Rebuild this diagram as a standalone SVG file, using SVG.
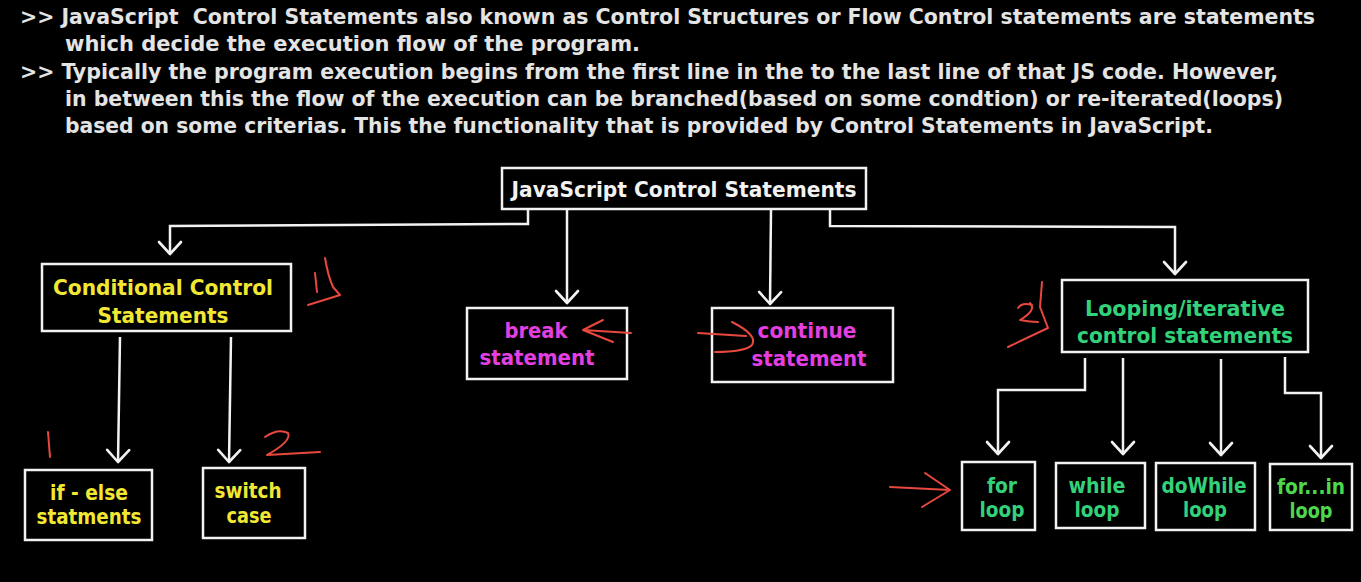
<svg xmlns="http://www.w3.org/2000/svg" width="1361" height="582" viewBox="0 0 1361 582">
<defs>
<marker id="ah" markerUnits="userSpaceOnUse" markerWidth="30" markerHeight="30" viewBox="0 0 30 30" refX="15" refY="13" orient="auto">
<path d="M3,2 L15,13 L3,24" fill="none" stroke="#f2f2f2" stroke-width="2.6" stroke-linecap="round" stroke-linejoin="round"/>
</marker>
</defs>
<style>
.hdr{font-family:"DejaVu Sans Condensed","DejaVu Sans",sans-serif;font-weight:bold;font-size:21px;fill:#e4e4e4}
.box{fill:none;stroke:#f2f2f2;stroke-width:2.5}
.lbl{font-family:"DejaVu Sans","Liberation Sans",sans-serif;font-weight:bold;font-size:21px;text-anchor:middle}
.w{fill:#f2f2f2}
.y{fill:#f2e834}
.m{fill:#e43fe0}
.g{fill:#33d27a}
.g2{fill:#4cd84a}
.con{fill:none;stroke:#f2f2f2;stroke-width:2.5;marker-end:url(#ah)}
.red{fill:none;stroke:#e8483e;stroke-width:2;stroke-linecap:round;stroke-linejoin:round}
</style>
<rect width="1361" height="582" fill="#000"/>
<g id="header">
<text class="hdr" x="20" y="24" textLength="1295" lengthAdjust="spacingAndGlyphs" xml:space="preserve">&gt;&gt; JavaScript  Control Statements also known as Control Structures or Flow Control statements are statements</text>
<text class="hdr" x="65" y="51" textLength="575" lengthAdjust="spacingAndGlyphs">which decide the execution flow of the program.</text>
<text class="hdr" x="20" y="79" textLength="1258" lengthAdjust="spacingAndGlyphs">&gt;&gt; Typically the program execution begins from the first line in the to the last line of that JS code. However,</text>
<text class="hdr" x="65" y="106" textLength="1218" lengthAdjust="spacingAndGlyphs">in between this the flow of the execution can be branched(based on some condtion) or re-iterated(loops)</text>
<text class="hdr" x="65" y="133" textLength="1148" lengthAdjust="spacingAndGlyphs">based on some criterias. This the functionality that is provided by Control Statements in JavaScript.</text>
</g>
<g id="connectors">
<polyline class="con" points="528,210 528,224 170,226 170,254"/>
<polyline class="con" points="567,210 567,303"/>
<polyline class="con" points="771,210 770,304"/>
<polyline class="con" points="830,210 830,226 1175,227 1175,274"/>
<polyline class="con" points="120,337 118,462"/>
<polyline class="con" points="231,337 229,462"/>
<polyline class="con" points="1085,358 1085,390 998,390 998,454"/>
<polyline class="con" points="1123,358 1123,454"/>
<polyline class="con" points="1221,359 1221,455"/>
<polyline class="con" points="1285,357 1285,393 1321,393 1321,458"/>
</g>
<g id="root">
<rect class="box" x="502" y="168" width="364" height="41"/>
<text class="lbl w" x="684" y="197" textLength="345" lengthAdjust="spacingAndGlyphs">JavaScript Control Statements</text>
</g>
<g id="conditional">
<rect class="box" x="42" y="264" width="249" height="67"/>
<text class="lbl y" x="163" y="295" textLength="220" lengthAdjust="spacingAndGlyphs">Conditional Control</text>
<text class="lbl y" x="163" y="323" textLength="131" lengthAdjust="spacingAndGlyphs">Statements</text>
</g>
<g id="break">
<rect class="box" x="467" y="308" width="160" height="71"/>
<text class="lbl m" x="536" y="338" textLength="63" lengthAdjust="spacingAndGlyphs">break</text>
<text class="lbl m" x="537" y="365" textLength="115" lengthAdjust="spacingAndGlyphs">statement</text>
</g>
<g id="continue">
<rect class="box" x="712" y="308" width="181" height="74"/>
<text class="lbl m" x="807" y="338" textLength="99" lengthAdjust="spacingAndGlyphs">continue</text>
<text class="lbl m" x="809" y="366" textLength="115" lengthAdjust="spacingAndGlyphs">statement</text>
</g>
<g id="looping">
<rect class="box" x="1062" y="280" width="246" height="72"/>
<text class="lbl g" x="1185" y="316" textLength="200" lengthAdjust="spacingAndGlyphs">Looping/iterative</text>
<text class="lbl g" x="1185" y="343" textLength="216" lengthAdjust="spacingAndGlyphs">control statements</text>
</g>
<g id="ifelse">
<rect class="box" x="25" y="470" width="127" height="70"/>
<text class="lbl y" x="89" y="500" textLength="78" lengthAdjust="spacingAndGlyphs">if - else</text>
<text class="lbl y" x="89" y="524" textLength="105" lengthAdjust="spacingAndGlyphs">statments</text>
</g>
<g id="switch">
<rect class="box" x="203" y="468" width="102" height="70"/>
<text class="lbl y" x="248" y="498" textLength="67" lengthAdjust="spacingAndGlyphs">switch</text>
<text class="lbl y" x="249" y="523" textLength="45" lengthAdjust="spacingAndGlyphs">case</text>
</g>
<g id="forloop">
<rect class="box" x="962" y="462" width="73" height="68"/>
<text class="lbl g" x="1002" y="493" textLength="30" lengthAdjust="spacingAndGlyphs">for</text>
<text class="lbl g" x="1002" y="517" textLength="45" lengthAdjust="spacingAndGlyphs">loop</text>
</g>
<g id="whileloop">
<rect class="box" x="1056" y="463" width="89" height="65"/>
<text class="lbl g" x="1097" y="493" textLength="57" lengthAdjust="spacingAndGlyphs">while</text>
<text class="lbl g" x="1097" y="517" textLength="45" lengthAdjust="spacingAndGlyphs">loop</text>
</g>
<g id="dowhileloop">
<rect class="box" x="1156" y="463" width="99" height="67"/>
<text class="lbl g" x="1204" y="493" textLength="85" lengthAdjust="spacingAndGlyphs">doWhile</text>
<text class="lbl g" x="1205" y="517" textLength="44" lengthAdjust="spacingAndGlyphs">loop</text>
</g>
<g id="forinloop">
<rect class="box" x="1270" y="464" width="82" height="66"/>
<text class="lbl g2" x="1311" y="494" textLength="68" lengthAdjust="spacingAndGlyphs">for...in</text>
<text class="lbl g2" x="1311" y="518" textLength="43" lengthAdjust="spacingAndGlyphs">loop</text>
</g>
<g id="annotations">
<path class="red" d="M315,273 L317,292"/>
<path class="red" d="M325,258 Q328,276 333,287 L340,295 L308,305"/>
<path class="red" d="M631,333 L583,330 M603,320 L583,330 L613,342"/>
<path class="red" d="M698,333 L746,336 M732,322 Q758,335 752,345 Q745,352 715,352"/>
<path class="red" d="M1032,305 Q1022,302 1018,308 M1030,303 Q1037,310 1020,320 Q1030,322 1038,322"/>
<path class="red" d="M1042,282 L1040,307 L1048,328 L1008,347"/>
<path class="red" d="M890,487 L950,490 M925,473 L950,490 L922,507"/>
<path class="red" d="M48,432 L50,457"/>
<path class="red" d="M265,437 Q278,428 288,433 Q292,441 267,455 L320,452"/>
</g>
</svg>
